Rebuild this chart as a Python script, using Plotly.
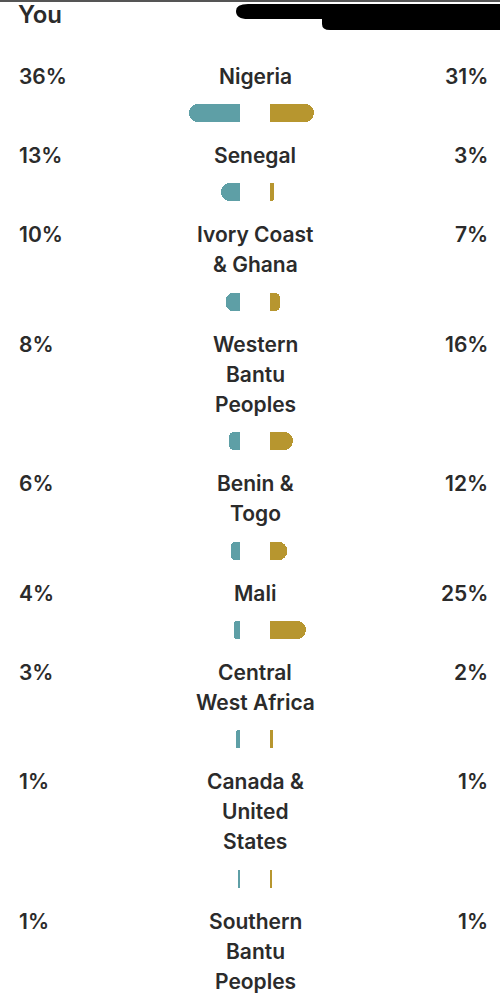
import plotly.graph_objects as go

# ---- data ----
regions = ["Nigeria", "Senegal", "Ivory Coast|& Ghana", "Western|Bantu|Peoples",
           "Benin &|Togo", "Mali", "Central|West Africa", "Canada &|United|States",
           "Southern|Bantu|Peoples"]
you_pct = [36, 13, 10, 8, 6, 4, 3, 1, 1]
match_pct = [31, 3, 7, 16, 12, 25, 2, 1, 1]
header_left = "You"

# ---- style / layout constants ----
W, H = 500, 1008
TEAL = "#5e9fa6"
GOLD = "#b7962f"
TXT = "#2b2b2b"
FONT = "Inter"
PX_PER_PCT = 1.43
LEFT_BASE, RIGHT_BASE = 240, 270
FIRST_Y = 76
LINE_H = 30
BAR_OFF = 37
GAP = 42.4
BAR_T = 18

# compute row positions from label line counts
text_rows, bar_y = [], []
y = FIRST_Y
for lab in regions:
    lines = lab.split("|")
    text_rows.append([y + i * LINE_H for i in range(len(lines))])
    by = y + (len(lines) - 1) * LINE_H + BAR_OFF
    bar_y.append(by)
    y = by + GAP

fig = go.Figure()
for vals, base, sign, col in [(you_pct, LEFT_BASE, -1, TEAL), (match_pct, RIGHT_BASE, 1, GOLD)]:
    # rounded full-length bar
    fig.add_trace(go.Bar(
        y=bar_y, x=[sign * v * PX_PER_PCT for v in vals], base=base,
        orientation="h", width=BAR_T, marker=dict(color=col, cornerradius=9, line_width=0),
        hoverinfo="skip", showlegend=False))
    # square inner half so only the outer end is rounded
    fig.add_trace(go.Bar(
        y=bar_y, x=[sign * v * PX_PER_PCT / 2 for v in vals], base=base,
        orientation="h", width=BAR_T, marker=dict(color=col, line_width=0),
        hoverinfo="skip", showlegend=False))

ann = []
fs = 21
fw = 600
for lab, rows, yv, mv in zip(regions, text_rows, you_pct, match_pct):
    for line, ly in zip(lab.split("|"), rows):
        ann.append(dict(x=255, y=ly, text=line, showarrow=False, xanchor="center", yanchor="middle",
                        font=dict(family=FONT, size=fs, color=TXT, weight=fw)))
    ann.append(dict(x=17, y=rows[0], text=f"{yv}%", showarrow=False, xanchor="left", yanchor="middle",
                    font=dict(family=FONT, size=fs, color=TXT, weight=fw)))
    ann.append(dict(x=490, y=rows[0], text=f"{mv}%", showarrow=False, xanchor="right", yanchor="middle",
                    font=dict(family=FONT, size=fs, color=TXT, weight=fw)))

ann.append(dict(x=16, y=14, text=header_left, showarrow=False, xanchor="left", yanchor="middle",
                font=dict(family=FONT, size=24, color=TXT, weight=fw)))

shapes = [
    dict(type="rect", x0=0, x1=W, y0=0, y1=2, fillcolor="#555555", line_width=0, layer="above"),
    dict(type="path", path="M 248 4 L 500 4 L 500 30 L 330 30 Q 322 30 322 24 L 322 19 L 248 19 Q 236 19 236 11 Q 236 4 248 4 Z",
         fillcolor="black", line_width=0, layer="above"),
]

fig.update_layout(
    width=W, height=H, margin=dict(l=0, r=0, t=0, b=0),
    paper_bgcolor="white", plot_bgcolor="white",
    barmode="overlay", bargap=0,
    xaxis=dict(range=[0, W], visible=False, fixedrange=True),
    yaxis=dict(range=[H, 0], visible=False, fixedrange=True),
    annotations=ann, shapes=shapes,
)
fig.write_html("out.html")
